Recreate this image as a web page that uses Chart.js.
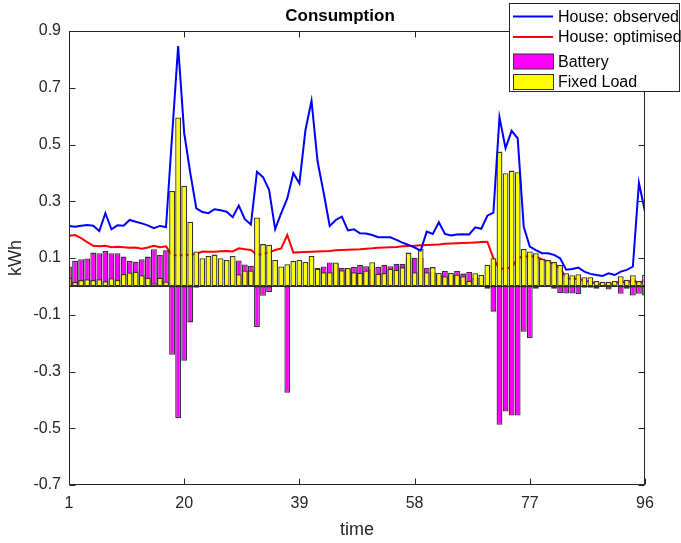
<!DOCTYPE html>
<html>
<head>
<meta charset="utf-8">
<script src="https://cdn.jsdelivr.net/npm/chart.js@4.4.1/dist/chart.umd.min.js"></script>
<style>
    html, body { margin: 0; padding: 0; background: #fff; }
</style>
</head>
<body>
<canvas id="myChart" width="681" height="543"></canvas>
<script>
// time slots 1..96 (15 min steps)
const times = Array.from({ length: 96 }, (_, i) => i + 1);
const xTicks = [1, 20, 39, 58, 77, 96];
const yTicks = [-0.7, -0.5, -0.3, -0.1, 0.1, 0.3, 0.5, 0.7, 0.9];

const houseObserved = [
    0.213, 0.210, 0.214, 0.216, 0.214, 0.195, 0.258, 0.201, 0.215, 0.214,
    0.234, 0.228, 0.222, 0.215, 0.205, 0.213, 0.209, 0.530, 0.847, 0.540,
    0.400, 0.275, 0.262, 0.258, 0.272, 0.268, 0.263, 0.244, 0.285, 0.237,
    0.218, 0.404, 0.385, 0.340, 0.202, 0.258, 0.310, 0.399, 0.363, 0.551,
    0.654, 0.440, 0.330, 0.213, 0.234, 0.246, 0.197, 0.201, 0.187, 0.186,
    0.181, 0.173, 0.173, 0.173, 0.164, 0.154, 0.146, 0.137, 0.126, 0.193,
    0.185, 0.226, 0.185, 0.179, 0.183, 0.184, 0.183, 0.208, 0.203, 0.249,
    0.260, 0.596, 0.487, 0.548, 0.522, 0.210, 0.140, 0.128, 0.117, 0.117,
    0.111, 0.099, 0.059, 0.061, 0.066, 0.052, 0.044, 0.040, 0.037, 0.046,
    0.040, 0.052, 0.058, 0.070, 0.365, 0.263
];

const houseOptimised = [
    0.178, 0.181, 0.170, 0.156, 0.143, 0.141, 0.143, 0.138, 0.140, 0.138,
    0.136, 0.137, 0.133, 0.137, 0.143, 0.138, 0.141, 0.110, 0.110, 0.110,
    0.112, 0.114, 0.123, 0.122, 0.122, 0.124, 0.125, 0.123, 0.134, 0.131,
    0.128, 0.111, 0.114, 0.120, 0.128, 0.134, 0.181, 0.119, 0.120, 0.121,
    0.122, 0.123, 0.124, 0.125, 0.127, 0.128, 0.129, 0.130, 0.131, 0.133,
    0.134, 0.136, 0.137, 0.138, 0.139, 0.141, 0.142, 0.143, 0.145, 0.146,
    0.147, 0.148, 0.150, 0.151, 0.152, 0.153, 0.154, 0.155, 0.156, 0.157,
    0.099, 0.060, 0.065, 0.065, 0.100, 0.105, 0.105, 0.105, 0.095, 0.088,
    0.078, 0.065, 0.030, 0.025, 0.028, 0.018, 0.018, 0.008, 0.006, 0.006,
    0.008, 0.020, 0.010, 0.025, 0.008, 0.025
];

const battery = [
    0.070, 0.090, 0.096, 0.098, 0.119, 0.117, 0.125, 0.117, 0.117, 0.105,
    0.090, 0.087, 0.096, 0.105, 0.131, 0.111, 0.127, -0.241, -0.464, -0.262,
    -0.127, -0.005, 0, 0, 0, 0, 0, 0, 0.091, 0.077,
    0.073, -0.143, -0.033, -0.020, 0, 0, -0.375, 0, 0, 0,
    0, 0.066, 0.070, 0.084, 0.080, 0.066, 0.060, 0.068, 0.075, 0.071,
    0.060, 0.068, 0.076, 0.071, 0.080, 0.080, 0.100, 0.101, 0.100, 0.065,
    0.050, 0.040, 0.054, 0.040, 0.054, 0.045, 0.051, 0.030, 0.030, -0.008,
    -0.089, -0.488, -0.441, -0.455, -0.455, -0.160, -0.182, -0.008, -0.003, 0,
    -0.008, -0.023, -0.025, -0.025, -0.027, -0.005, -0.005, -0.008, -0.002, -0.011,
    0, -0.026, -0.008, -0.032, -0.026, -0.032
];

const fixedLoad = [
    0.031, 0.016, 0.023, 0.025, 0.023, 0.025, 0.018, 0.029, 0.023, 0.044,
    0.049, 0.052, 0.039, 0.031, 0.011, 0.031, 0.017, 0.336, 0.595, 0.355,
    0.228, 0.123, 0.099, 0.107, 0.112, 0.099, 0.093, 0.107, 0.043, 0.056,
    0.056, 0.243, 0.149, 0.147, 0.093, 0.070, 0.078, 0.090, 0.093, 0.086,
    0.107, 0.062, 0.050, 0.050, 0.084, 0.057, 0.065, 0.050, 0.048, 0.056,
    0.085, 0.045, 0.047, 0.062, 0.059, 0.068, 0.119, 0.050, 0.132, 0.050,
    0.068, 0.047, 0.036, 0.047, 0.042, 0.036, 0.020, 0.046, 0.040, 0.076,
    0.099, 0.475, 0.399, 0.408, 0.402, 0.132, 0.123, 0.117, 0.097, 0.093,
    0.086, 0.076, 0.046, 0.039, 0.043, 0.032, 0.032, 0.019, 0.016, 0.016,
    0.019, 0.036, 0.023, 0.039, 0.019, 0.041
];

const FONT = "'Liberation Sans', Arial, sans-serif";
const AXIS_COLOR = '#262626';
const EDGE_COLOR = '#333333';

// legend entries (drawn in the box at the top right)
const legendItems = [
    { label: 'House: observed', type: 'line', color: '#0000ff' },
    { label: 'House: optimised', type: 'line', color: '#ff0000' },
    { label: 'Battery', type: 'patch', color: '#ff00ff' },
    { label: 'Fixed Load', type: 'patch', color: '#ffff00' }
];

const matlabAxes = {
    id: 'matlabAxes',
    beforeDatasetsDraw(chart) {
        // bar baseline at zero
        const { ctx, chartArea: a, scales: { y } } = chart;
        const y0 = Math.round(y.getPixelForValue(0)) + 0.5;
        ctx.save();
        ctx.strokeStyle = AXIS_COLOR;
        ctx.lineWidth = 1;
        ctx.beginPath();
        ctx.moveTo(a.left, y0);
        ctx.lineTo(a.right, y0);
        ctx.stroke();
        ctx.restore();
    },
    afterDatasetsDraw(chart) {
        // box + inward ticks on all four sides
        const { ctx, chartArea: a, scales: { x, y } } = chart;
        const L = Math.round(a.left) + 0.5, R = Math.round(a.right) - 0.5;
        const T = Math.round(a.top) + 0.5, B = Math.round(a.bottom) - 0.5;
        ctx.save();
        ctx.strokeStyle = AXIS_COLOR;
        ctx.lineWidth = 1;
        ctx.strokeRect(L, T, R - L, B - T);
        ctx.beginPath();
        xTicks.forEach(t => {
            const px = Math.round(x.getPixelForValue(times.indexOf(t))) + 0.5;
            ctx.moveTo(px, B); ctx.lineTo(px, B - 6);
            ctx.moveTo(px, T); ctx.lineTo(px, T + 6);
        });
        yTicks.forEach(t => {
            const py = Math.round(y.getPixelForValue(t)) + 0.5;
            ctx.moveTo(L, py); ctx.lineTo(L + 6, py);
            ctx.moveTo(R, py); ctx.lineTo(R - 6, py);
        });
        ctx.stroke();
        ctx.restore();
    },
    afterDraw(chart) {
        const { ctx, chartArea: a } = chart;
        ctx.save();
        ctx.fillStyle = '#000';
        ctx.textAlign = 'center';
        ctx.textBaseline = 'middle';
        ctx.font = 'bold 17px ' + FONT;
        ctx.fillText('Consumption', 340, 16);

        ctx.fillStyle = AXIS_COLOR;
        ctx.font = '18px ' + FONT;
        ctx.fillText('time', (a.left + a.right) / 2, 530);
        ctx.translate(16, (a.top + a.bottom) / 2);
        ctx.rotate(-Math.PI / 2);
        ctx.fillText('kWh', 0, 0);
        ctx.restore();

        // legend box
        ctx.save();
        ctx.fillStyle = '#fff';
        ctx.fillRect(509, 3, 171, 89);
        ctx.strokeStyle = AXIS_COLOR;
        ctx.lineWidth = 1;
        ctx.strokeRect(509.5, 3.5, 170, 88);
        const rows = [16.5, 37, 61.5, 82];
        ctx.font = '16px ' + FONT;
        ctx.textAlign = 'left';
        ctx.textBaseline = 'middle';
        legendItems.forEach((item, i) => {
            const cy = rows[i];
            if (item.type === 'line') {
                ctx.strokeStyle = item.color;
                ctx.lineWidth = 2;
                ctx.beginPath();
                ctx.moveTo(513, cy);
                ctx.lineTo(553, cy);
                ctx.stroke();
            } else {
                ctx.fillStyle = item.color;
                ctx.fillRect(513.5, cy - 7.5, 40, 15);
                ctx.strokeStyle = EDGE_COLOR;
                ctx.lineWidth = 1;
                ctx.strokeRect(513.5, cy - 7.5, 40, 15);
            }
            ctx.fillStyle = '#000';
            ctx.fillText(item.label, 558, cy + 1);
        });
        ctx.restore();
    }
};

const barStyle = {
    borderColor: EDGE_COLOR,
    borderWidth: 1.3,
    borderSkipped: false,
    grouped: false,
    barPercentage: 1,
    categoryPercentage: 0.96,
    clip: 0
};

const config = {
    type: 'bar',
    data: {
        labels: times,
        datasets: [
            {
                type: 'line',
                label: 'House: observed',
                data: houseObserved,
                borderColor: '#0000ff',
                borderWidth: 2,
                pointRadius: 0,
                tension: 0,
                clip: 0,
                order: 0
            },
            {
                type: 'line',
                label: 'House: optimised',
                data: houseOptimised,
                borderColor: '#ff0000',
                borderWidth: 2,
                pointRadius: 0,
                tension: 0,
                clip: 0,
                order: 3
            },
            Object.assign({
                label: 'Battery',
                data: battery,
                backgroundColor: '#ff00ff',
                order: 2
            }, barStyle),
            Object.assign({
                label: 'Fixed Load',
                data: fixedLoad,
                backgroundColor: '#ffff00',
                order: 1
            }, barStyle)
        ]
    },
    options: {
        responsive: false,
        animation: false,
        layout: { padding: { top: 31, right: 36, left: 0, bottom: 0 } },
        plugins: {
            legend: { display: false },
            title: { display: false },
            tooltip: { enabled: false }
        },
        scales: {
            x: {
                type: 'category',
                offset: false,
                grid: { display: false, drawTicks: false },
                border: { display: false },
                ticks: {
                    autoSkip: false,
                    maxRotation: 0,
                    padding: 9,
                    color: AXIS_COLOR,
                    font: { family: FONT, size: 16 }
                },
                afterBuildTicks: scale => {
                    scale.ticks = scale.ticks.filter(t => xTicks.includes(times[t.value]));
                },
                afterFit: scale => { scale.height = 58; }
            },
            y: {
                min: -0.7,
                max: 0.9,
                grid: { display: false, drawTicks: false },
                border: { display: false },
                ticks: {
                    padding: 8,
                    color: AXIS_COLOR,
                    font: { family: FONT, size: 16 },
                    callback: v => Number(v).toFixed(1)
                },
                afterBuildTicks: scale => {
                    scale.ticks = yTicks.map(v => ({ value: v }));
                },
                afterFit: scale => { scale.width = 69; }
            }
        }
    },
    plugins: [matlabAxes]
};

new Chart(document.getElementById('myChart'), config);
</script>
</body>
</html>
